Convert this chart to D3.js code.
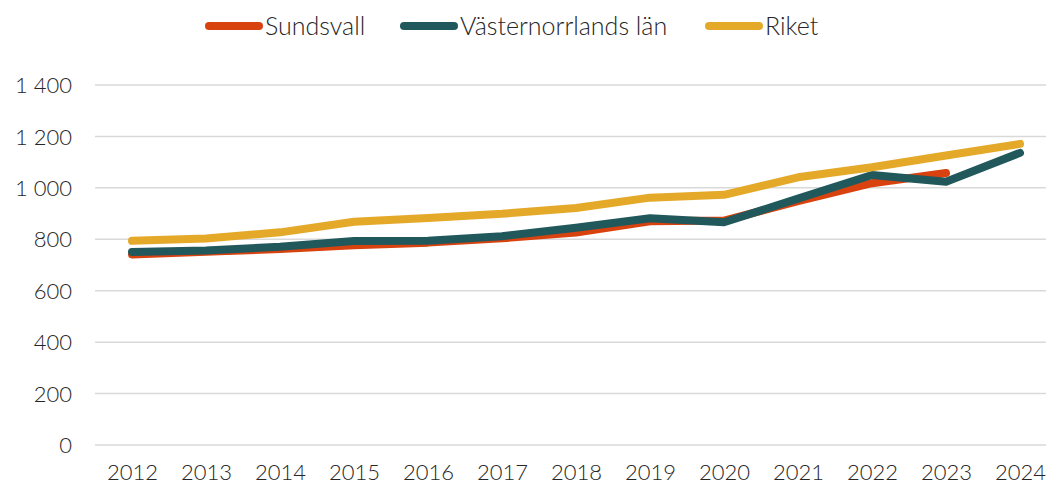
<!DOCTYPE html>
<html>
<head>
<meta charset="utf-8">
<script src="https://cdn.jsdelivr.net/npm/d3@7"></script>
<style>
  body { margin: 0; background: #fff; }
  svg text { font-family: Lato, "Open Sans", sans-serif; font-weight: 300; fill: #262626; }
</style>
</head>
<body>
<div id="container"></div>
<script>
// data
const years = [2012, 2013, 2014, 2015, 2016, 2017, 2018, 2019, 2020, 2021, 2022, 2023, 2024];
const sundsvall = [741, 752, 762, 777, 787, 804, 826, 870, 873, 948, 1018, 1058, null];
const vasternorrland = [751, 756, 771, 793, 794, 812, 845, 882, 866, 958, 1050, 1024, 1136];
const riket = [794, 803, 827, 868, 883, 899, 922, 962, 973, 1041, 1080, 1126, 1171];
const yTicks = [0, 200, 400, 600, 800, 1000, 1200, 1400];

const series = [
  { name: 'Sundsvall', values: sundsvall, color: '#D8420E' },
  { name: 'Västernorrlands län', values: vasternorrland, color: '#21585C' },
  { name: 'Riket', values: riket, color: '#E5A92A' }
];

const W = 1046, H = 486;

const svg = d3.select('#container')
  .append('svg')
  .attr('width', W)
  .attr('height', H);

// scales
const x = d3.scalePoint()
  .domain(years)
  .range([95, 1057])
  .padding(0.5);

const y = d3.scaleLinear()
  .domain([0, 1400])
  .range([445, 85]);

// gridlines
svg.append('g')
  .selectAll('line')
  .data(yTicks)
  .join('line')
  .attr('x1', 95)
  .attr('x2', W)
  .attr('y1', d => y(d))
  .attr('y2', d => y(d))
  .attr('stroke', '#d9d9d9')
  .attr('stroke-width', 1.5);

// y axis labels, space as thousands separator
svg.append('g')
  .attr('transform', 'translate(72,0)')
  .call(d3.axisLeft(y).tickValues(yTicks).tickSize(0).tickPadding(0)
    .tickFormat(d => d >= 1000 ? String(d).replace(/(\d)(\d{3})$/, '$1 $2') : d))
  .call(g => g.select('.domain').remove())
  .selectAll('text')
  .attr('font-size', 22)
  .attr('dy', '0.35em');

// x axis labels
svg.append('g')
  .attr('transform', 'translate(0,480)')
  .call(d3.axisBottom(x).tickSize(0).tickPadding(0))
  .call(g => g.select('.domain').remove())
  .selectAll('text')
  .attr('font-size', 22)
  .attr('y', 0)
  .attr('dy', 0);

// lines
const line = d3.line()
  .defined(d => d.v != null)
  .x(d => x(d.year))
  .y(d => y(d.v));

svg.append('g')
  .selectAll('path')
  .data(series)
  .join('path')
  .attr('fill', 'none')
  .attr('stroke', d => d.color)
  .attr('stroke-width', 8)
  .attr('stroke-linecap', 'round')
  .attr('stroke-linejoin', 'round')
  .attr('d', d => line(years.map((yr, i) => ({ year: yr, v: d.values[i] }))));

// legend
const legendX = [205, 400, 705];
const legend = svg.append('g')
  .selectAll('g')
  .data(series)
  .join('g')
  .attr('transform', (d, i) => `translate(${legendX[i]},26)`);

legend.append('line')
  .attr('x1', 4).attr('x2', 54)
  .attr('stroke', d => d.color)
  .attr('stroke-width', 8)
  .attr('stroke-linecap', 'round');

legend.append('text')
  .attr('x', 60)
  .attr('dy', '0.35em')
  .attr('font-size', 25)
  .text(d => d.name);
</script>
</body>
</html>
